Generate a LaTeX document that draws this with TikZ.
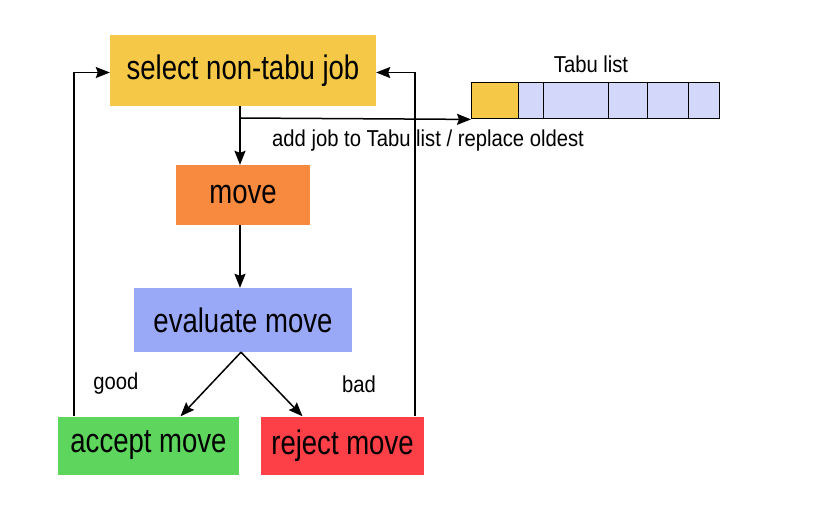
\documentclass[tikz,border=0pt]{standalone}
\usepackage{fontspec}
\setmainfont{Liberation Sans}[FakeStretch=0.81]
\newfontfamily\smallfam{Liberation Sans}[FakeStretch=0.88]
\usetikzlibrary{arrows.meta}
\definecolor{cSel}{HTML}{F5C947}
\definecolor{cMove}{HTML}{F78A3F}
\definecolor{cEval}{HTML}{9AA8F8}
\definecolor{cAcc}{HTML}{5ED65E}
\definecolor{cRej}{HTML}{FD3F47}
\definecolor{cCell}{HTML}{D3D8FA}
\begin{document}
\begin{tikzpicture}[x=1pt,y=-1pt,
  box/.style={rectangle,inner sep=0pt,draw=none,font=\fontsize{34}{40}\selectfont},
  cell/.style={rectangle,inner sep=0pt,draw=black,line width=1.4pt,fill=cCell,minimum height=36pt,anchor=north west},
  lbl/.style={inner sep=0pt,font=\smallfam\fontsize{23}{27}\selectfont},
  arr/.style={line width=1.5pt,-{Stealth[length=14pt,width=11pt,inset=2pt]}},
  ln/.style={line width=1.5pt}]
\useasboundingbox (0,0) rectangle (817,504);
\fill[white] (0,0) rectangle (817,504);
\node[box,fill=cSel,minimum width=266pt,minimum height=71pt] (select) at (243,70.5) {select non-tabu job};
\node[box,fill=cMove,minimum width=134pt,minimum height=60pt] (move) at (243,195) {move};
\node[box,fill=cEval,minimum width=218pt,minimum height=64pt] (eval) at (243,320) {evaluate move};
\node[box,fill=cAcc,minimum width=181pt,minimum height=58pt] (acc) at (148.5,445.5) {accept move};
\node[box,fill=cRej,minimum width=163pt,minimum height=58pt] (rej) at (342.5,445.5) {reject move};
% tabu list
\node[cell,fill=cSel,minimum width=47pt] (c1) at (471,82) {};
\node[cell,minimum width=25pt] (c2) at (518,82) {};
\node[cell,minimum width=65pt] (c3) at (543,82) {};
\node[cell,minimum width=39pt] (c4) at (608,82) {};
\node[cell,minimum width=41pt] (c5) at (647,82) {};
\node[cell,minimum width=31pt] (c6) at (688,82) {};
\node[lbl] (tabulbl) at (591,64) {Tabu list};
\node[lbl,anchor=west] (addlbl) at (272,141) {add job to Tabu list / replace oldest};
\node[lbl] (good) at (116,384) {good};
\node[lbl] (bad) at (359,384) {bad};
% connectors
\coordinate (br) at (240,118);
\coordinate (selb) at (240,106);
\draw[ln] (selb) -- (br);
\draw[arr] (br) -- (c1.south west);
\draw[arr] (br) -- (br |- move.north);
\draw[arr] ([xshift=-3pt]move.south) -- ([xshift=-3pt]eval.north);
\draw[arr] ([xshift=-2pt]eval.south) -- ([xshift=32pt]acc.north);
\draw[arr] ([xshift=-2pt]eval.south) -- ([xshift=-40pt]rej.north);
\draw[arr] ([xshift=16pt]acc.north west) |- ([yshift=-2pt]select.west);
\draw[arr] ([xshift=-9pt]rej.north east) |- ([yshift=-2pt]select.east);
\end{tikzpicture}
\end{document}
